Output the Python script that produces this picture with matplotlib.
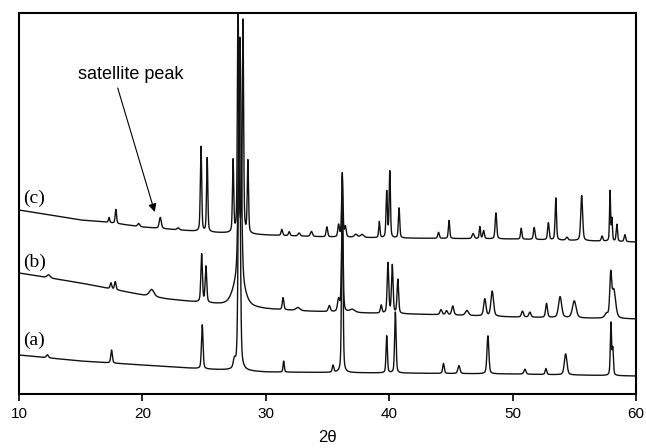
import numpy as np
import matplotlib
matplotlib.use('Agg')
import matplotlib.pyplot as plt

# baseline anchor points (2theta, intensity)
base_x_a = [10, 15, 20, 25, 30, 40, 50, 60]
base_y_a = [39, 33, 29, 25, 22, 21, 20, 18]
base_x_b = [10, 15, 20, 22, 25, 30, 33, 38, 45, 50, 55, 60]
base_y_b = [121, 111, 99, 95, 91, 85, 83, 81, 79, 77, 76, 75]
base_x_c = [10, 15, 17, 20, 25, 30, 35, 40, 50, 60]
base_y_c = [184, 174, 172, 167, 162, 159, 157, 156, 155, 152]

# peaks: position (2theta), height above baseline, width (deg)
pos_a = [12.3, 17.5, 24.85, 27.45, 27.85, 31.45, 35.45, 36.2, 39.8, 40.5,
         44.4, 45.65, 48.0, 51.0, 52.7, 54.3, 57.97, 58.12]
hgt_a = [3, 13, 44, 8, 310, 11, 7, 200, 37, 61,
         10, 8, 38, 5, 6, 21, 52, 26]
wid_a = [0.2, 0.15, 0.15, 0.2, 0.18, 0.12, 0.15, 0.13, 0.13, 0.14,
         0.15, 0.2, 0.18, 0.2, 0.15, 0.25, 0.12, 0.12]

pos_b = [12.4, 17.45, 17.8, 20.75, 24.8, 25.15, 27.8, 27.9, 31.4, 32.6,
         35.15, 35.9, 36.2, 37.0, 39.35, 39.9, 40.25, 40.7, 44.2, 44.65,
         45.15, 46.3, 47.75, 48.35, 50.8, 51.4, 52.75, 53.85, 55.0, 57.6,
         57.95, 58.2]
hgt_b = [3, 6, 8, 7, 48, 36, 25, 245, 12, 3,
         6, 12, 100, 3, 8, 50, 48, 34, 5, 4,
         9, 5, 17, 25, 6, 5, 14, 21, 17, 4,
         40, 28]
wid_b = [0.3, 0.15, 0.15, 0.45, 0.15, 0.15, 1.0, 0.25, 0.15, 0.4,
         0.2, 0.2, 0.15, 0.5, 0.15, 0.15, 0.15, 0.15, 0.2, 0.2,
         0.2, 0.3, 0.22, 0.25, 0.2, 0.2, 0.18, 0.3, 0.35, 0.3,
         0.18, 0.35]

pos_c = [17.3, 17.85, 19.7, 21.45, 22.9, 24.75, 25.25, 27.35, 27.75, 28.15,
         28.55, 31.3, 31.9, 32.7, 33.7, 34.95, 35.9, 36.2, 36.45, 37.3,
         37.8, 39.2, 39.8, 40.05, 40.8, 44.0, 44.85, 46.8, 47.35, 47.65,
         48.65, 50.7, 51.75, 52.9, 53.5, 54.4, 55.6, 57.25, 57.9, 58.05,
         58.45, 59.1]
hgt_c = [5, 14, 3, 11, 2, 85, 74, 72, 240, 212,
         72, 6, 4, 3, 5, 10, 12, 60, 10, 3,
         3, 16, 46, 66, 30, 6, 18, 5, 12, 8,
         26, 11, 12, 17, 42, 3, 45, 5, 50, 22,
         17, 7]
wid_c = [0.12, 0.13, 0.2, 0.2, 0.2, 0.13, 0.12, 0.12, 0.12, 0.12,
         0.12, 0.15, 0.15, 0.2, 0.2, 0.15, 0.15, 0.13, 0.15, 0.3,
         0.3, 0.12, 0.13, 0.12, 0.13, 0.15, 0.13, 0.2, 0.12, 0.15,
         0.15, 0.13, 0.15, 0.15, 0.13, 0.2, 0.18, 0.15, 0.1, 0.1,
         0.13, 0.15]

labels = ['(a)', '(b)', '(c)']
label_y = [54, 132, 196]


def pattern(x, bx, by, pos, hgt, wid):
    y = np.interp(x, bx, by)
    for p, h, w in zip(pos, hgt, wid):
        g = np.exp(-4 * np.log(2) * ((x - p) / w) ** 2)
        l = 1 / (1 + 4 * ((x - p) / w) ** 2)
        y = y + h * (0.6 * g + 0.4 * l)
    return y


x = np.arange(10, 60.001, 0.01)
ya = pattern(x, base_x_a, base_y_a, pos_a, hgt_a, wid_a)
yb = pattern(x, base_x_b, base_y_b, pos_b, hgt_b, wid_b)
yc = pattern(x, base_x_c, base_y_c, pos_c, hgt_c, wid_c)

fig = plt.figure(figsize=(6.46, 4.48), dpi=100)
ax = fig.add_axes([0.0294, 0.1205, 0.9551, 0.8505])

for y in [ya, yb, yc]:
    ax.plot(x, y, color='#111111', lw=1.0)

ax.set_xlim(10, 60)
ax.set_ylim(0, 381)
ax.set_xticks([10, 20, 30, 40, 50, 60])
ax.set_yticks([])
ax.tick_params(axis='x', direction='out', length=5, width=1.2,
               labelsize=11, pad=4)
for lab in ax.get_xticklabels():
    lab.set_fontfamily('Liberation Sans')
ax.set_xlabel('2θ', fontsize=12, family='Liberation Sans', labelpad=7)
for s in ax.spines.values():
    s.set_linewidth(1.5)

for lab, ly in zip(labels, label_y):
    ax.text(10.3, ly, lab, fontsize=14, family='Liberation Serif',
            ha='left', va='center')

ax.text(19.08, 319, 'satellite peak', fontsize=13, family='Liberation Sans',
        ha='center', va='center')
ax.annotate('', xy=(21.0, 182), xytext=(18.0, 306),
            arrowprops=dict(arrowstyle='-|>', color='black', lw=0.8,
                            mutation_scale=12, shrinkA=0, shrinkB=0))

fig.savefig('out.png', dpi=100)
